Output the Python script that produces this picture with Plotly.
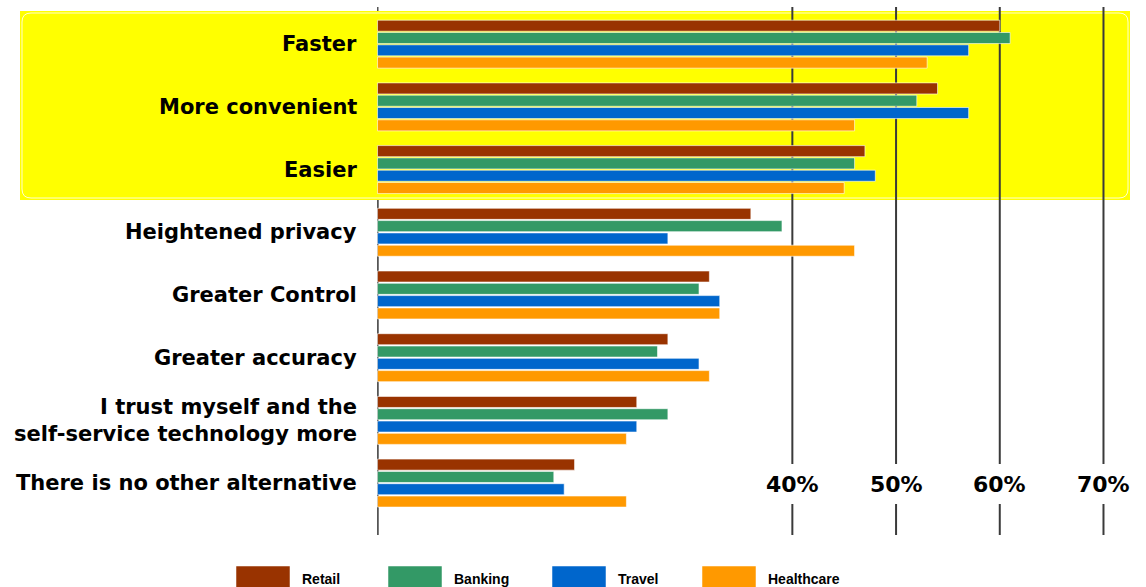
import plotly.graph_objects as go

# ---------------- data ----------------
categories = [
    "Faster",
    "More convenient",
    "Easier",
    "Heightened privacy",
    "Greater Control",
    "Greater accuracy",
    "I trust myself and the<br>self-service technology more",
    "There is no other alternative",
]
series_names = ["Retail", "Banking", "Travel", "Healthcare"]
retail = [60, 54, 47, 36, 32, 28, 25, 19]
banking = [61, 52, 46, 39, 31, 27, 28, 17]
travel = [57, 57, 48, 28, 33, 31, 25, 18]
healthcare = [53, 46, 45, 46, 33, 32, 24, 24]
grid_values = [40, 50, 60, 70]
grid_labels = ["40%", "50%", "60%", "70%"]
highlighted = ["Faster", "More convenient", "Easier"]

# ---------------- style ----------------
colors = ["#993300", "#339966", "#0066CC", "#FF9900"]
W, H = 1146, 587
L, R, T, B = 377, 0, 7, 52
PW, PH = W - L - R, H - T - B
LABEL_FONT = "DejaVu Sans, Verdana, sans-serif"


def px_x(p):
    return (p - L) / PW


def px_y(p):
    return (H - B - p) / PH


fig = go.Figure()
for name, vals, col in zip(series_names, [retail, banking, travel, healthcare], colors):
    fig.add_trace(go.Bar(
        name=name, y=categories, x=vals, orientation="h",
        marker=dict(color=col, line=dict(color="rgba(255,255,255,0.6)", width=1)),
        showlegend=False, hoverinfo="x+y",
    ))

shapes = []
# axis line (under the highlight)
shapes.append(dict(type="line", xref="x", yref="paper", x0=0, x1=0, y0=0, y1=1,
                   line=dict(color="#555555", width=2), layer="below"))
# yellow highlight block
n_hl = len(highlighted)
shapes.append(dict(type="rect", xref="paper", yref="paper",
                   x0=px_x(20), x1=px_x(1130), y0=px_y(200), y1=px_y(11),
                   fillcolor="#FFFF00", line=dict(width=0), layer="below"))


def rounded(x0, y0, x1, y1, r):
    rx, ry = r / PW, r / PH
    X0, X1, Y0, Y1 = px_x(x0), px_x(x1), px_y(y1), px_y(y0)
    return (f"M {X0+rx},{Y1} L {X1-rx},{Y1} Q {X1},{Y1} {X1},{Y1-ry} "
            f"L {X1},{Y0+ry} Q {X1},{Y0} {X1-rx},{Y0} L {X0+rx},{Y0} "
            f"Q {X0},{Y0} {X0},{Y0+ry} L {X0},{Y1-ry} Q {X0},{Y1} {X0+rx},{Y1} Z")


shapes.append(dict(type="path", xref="paper", yref="paper",
                   path=rounded(22, 13, 1128, 198, 9),
                   line=dict(color="#FFFFCC", width=1), layer="below"))
# gridlines, broken where the tick labels sit
for v in grid_values:
    for y0, y1 in [(px_y(535), px_y(504)), (px_y(464), px_y(7))]:
        shapes.append(dict(type="line", xref="x", yref="paper", x0=v, x1=v, y0=y0, y1=y1,
                           line=dict(color="#3a3a3a", width=2), layer="below"))
# axis line below the highlight
shapes.append(dict(type="line", xref="x", yref="paper", x0=0, x1=0, y0=0, y1=px_y(200),
                   line=dict(color="#555555", width=2), layer="below"))

annotations = []
for c in categories:
    annotations.append(dict(xref="x", yref="y", x=0, y=c, xanchor="right", yanchor="middle",
                            xshift=-19, text=f"<b>{c}</b>", showarrow=False, align="right",
                            font=dict(family=LABEL_FONT, size=21, color="black")))
for v, t in zip(grid_values, grid_labels):
    annotations.append(dict(xref="x", yref="paper", x=v, y=px_y(484), xanchor="center",
                            yanchor="middle", text=f"<b>{t}</b>", showarrow=False,
                            font=dict(family=LABEL_FONT, size=22, color="black")))

# custom legend
legend_box_x = [236, 388, 552, 702]
for name, col, bx in zip(series_names, colors, legend_box_x):
    shapes.append(dict(type="rect", xref="paper", yref="paper",
                       x0=px_x(bx), x1=px_x(bx + 54), y0=px_y(595), y1=px_y(566),
                       fillcolor=col, line=dict(color="rgba(255,255,255,0.5)", width=1)))
    annotations.append(dict(xref="paper", yref="paper", x=px_x(bx + 64), y=px_y(579),
                            xanchor="left", yanchor="middle", text=f"<b>{name}</b>",
                            showarrow=False,
                            font=dict(family="Liberation Sans, Arial, sans-serif", size=14,
                                      color="black")))

fig.update_layout(
    width=W, height=H,
    margin=dict(l=L, r=R, t=T, b=B, pad=0),
    paper_bgcolor="white", plot_bgcolor="rgba(0,0,0,0)",
    barmode="group", bargap=0.215, bargroupgap=0.1,
    shapes=shapes, annotations=annotations,
    xaxis=dict(range=[-0.05, 74.1], showgrid=False, zeroline=False, showticklabels=False,
               showline=False, ticks=""),
    yaxis=dict(type="category", range=[len(categories) - 1 + 0.828, -0.593],
               showgrid=False, zeroline=False, showticklabels=False, showline=False, ticks=""),
)

fig.write_html("out.html")
